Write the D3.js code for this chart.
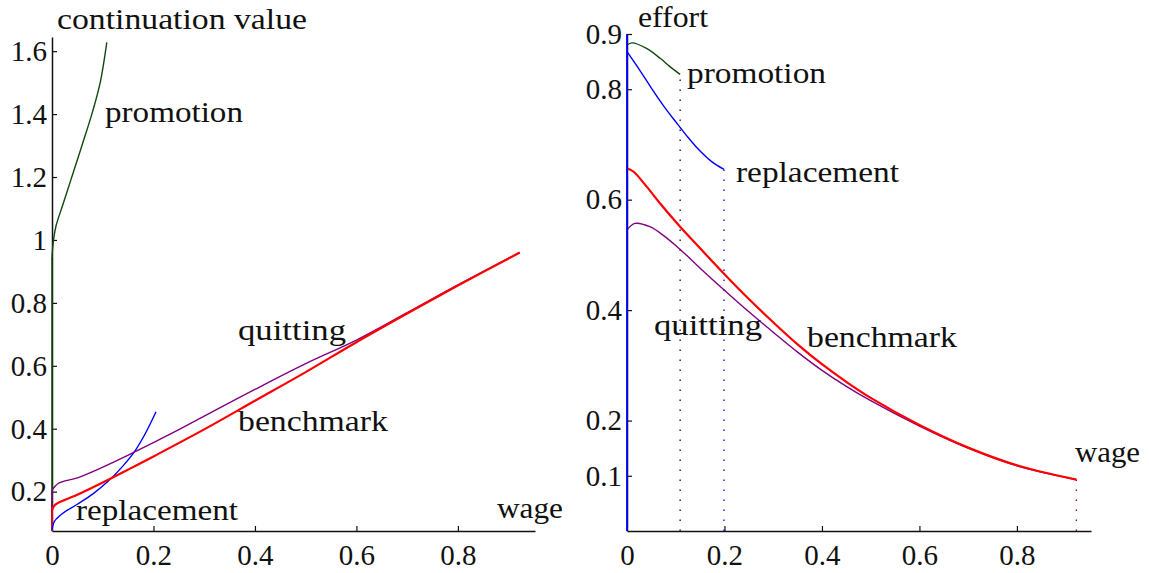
<!DOCTYPE html>
<html>
<head>
<meta charset="utf-8">
<script src="https://cdn.jsdelivr.net/npm/d3@7"></script>
<style>
  body { margin: 0; background: #fff; }
</style>
</head>
<body>
<svg width="1149" height="573"></svg>
<script>
// ---- data: left panel, continuation value vs wage ----
var contPromotion = [[0, 0.947], [0.003, 1.0], [0.008, 1.045], [0.022, 1.115], [0.04, 1.205],
                     [0.06, 1.305], [0.08, 1.408], [0.095, 1.5], [0.108, 1.628]];
var contReplacement = [[0, 0.078], [0.005, 0.106], [0.02, 0.13], [0.05, 0.16], [0.08, 0.192],
                       [0.11, 0.232], [0.14, 0.282], [0.165, 0.333], [0.185, 0.388], [0.205, 0.454]];
var contBenchmark = [[0, 0.142], [0.006, 0.158], [0.05, 0.19], [0.1, 0.229], [0.15, 0.27],
                     [0.2, 0.312], [0.3, 0.398], [0.4, 0.489], [0.5, 0.58], [0.6, 0.675],
                     [0.7, 0.766], [0.8, 0.855], [0.922, 0.96]];
var contQuitting = [[0, 0.205], [0.012, 0.226], [0.05, 0.244], [0.1, 0.278], [0.15, 0.316],
                    [0.2, 0.356], [0.25, 0.397], [0.3, 0.44], [0.4, 0.525], [0.5, 0.607],
                    [0.6, 0.682], [0.7, 0.769], [0.8, 0.857], [0.922, 0.96]];

// ---- data: right panel, effort vs wage ----
var effPromotion = [[0, 0.88], [0.01, 0.884], [0.04, 0.874], [0.068, 0.856], [0.088, 0.841], [0.109, 0.827]];
var effReplacement = [[0, 0.868], [0.025, 0.836], [0.05, 0.802], [0.075, 0.77], [0.1, 0.741],
                      [0.125, 0.713], [0.15, 0.688], [0.175, 0.668], [0.199, 0.655]];
var effBenchmark = [[0, 0.657], [0.013, 0.651], [0.04, 0.624], [0.068, 0.593], [0.109, 0.551],
                    [0.15, 0.512], [0.2, 0.465], [0.25, 0.42], [0.3, 0.378], [0.35, 0.338],
                    [0.4, 0.302], [0.45, 0.27], [0.5, 0.241], [0.6, 0.192], [0.7, 0.151],
                    [0.8, 0.119], [0.922, 0.093]];
var effQuitting = [[0, 0.545], [0.016, 0.557], [0.047, 0.551], [0.075, 0.535], [0.1, 0.517],
                   [0.126, 0.496], [0.15, 0.476], [0.2, 0.436], [0.25, 0.397], [0.3, 0.36],
                   [0.35, 0.324], [0.4, 0.291], [0.45, 0.262], [0.5, 0.236], [0.6, 0.19],
                   [0.7, 0.15], [0.8, 0.118], [0.922, 0.093]];

var wageTicks = [0, 0.2, 0.4, 0.6, 0.8];
var contTicks = [0.2, 0.4, 0.6, 0.8, 1, 1.2, 1.4, 1.6];
var effortTicks = [0.1, 0.2, 0.4, 0.6, 0.8, 0.9];

var colors = {promotion: "#104810", replacement: "#0000ff", benchmark: "#ff0000", quitting: "#800080"};
var serif = "'Liberation Serif', 'DejaVu Serif', 'Times New Roman', serif";

var svg = d3.select("svg");
var fmt = d3.format("~g");

var xL = d3.scaleLinear().domain([0, 0.952]).range([52, 535]);
var yL = d3.scaleLinear().domain([0.075, 1.645]).range([531, 37]);
var xR = d3.scaleLinear().domain([0, 0.952]).range([627, 1091]);
var yR = d3.scaleLinear().domain([0, 0.9]).range([531, 34]);

function axes(x, y, yTicks) {
    var gx = svg.append("g")
        .attr("transform", "translate(0," + y.range()[0] + ")")
        .call(d3.axisBottom(x).tickValues(wageTicks).tickSizeInner(-5).tickSizeOuter(0)
              .tickPadding(13).tickFormat(fmt));
    var gy = svg.append("g")
        .attr("transform", "translate(" + x.range()[0] + ",0)")
        .call(d3.axisLeft(y).tickValues(yTicks).tickSizeInner(-5).tickSizeOuter(0)
              .tickPadding(5).tickFormat(fmt));
    [gx, gy].forEach(function(g) {
        g.attr("font-family", serif).attr("font-size", 29);
        g.select(".domain").attr("stroke", "#111").attr("stroke-width", 1.5);
        g.selectAll(".tick line").attr("stroke", "#111").attr("stroke-width", 1.2);
        g.selectAll(".tick text").attr("fill", "#111").style("font-family", serif);
    });
    gx.selectAll(".tick").filter(function(d) { return d === 0; }).select("line").remove();
}

function curve(x, y, data, color, width) {
    var line = d3.line()
        .x(function(d) { return x(d[0]); })
        .y(function(d) { return y(d[1]); })
        .curve(d3.curveCatmullRom.alpha(0.5));
    svg.append("path")
        .attr("d", line(data))
        .attr("fill", "none")
        .attr("stroke", color)
        .attr("stroke-width", width);
}

function stem(x, y, x0, y0, y1, color, width, dotted) {
    svg.append("line")
        .attr("x1", x(x0)).attr("x2", x(x0))
        .attr("y1", y(y0)).attr("y2", y(y1))
        .attr("stroke", color)
        .attr("stroke-width", width)
        .attr("stroke-dasharray", dotted ? "1.4,8.6" : null);
}

function label(txt, px, py, len) {
    svg.append("text")
        .attr("x", px).attr("y", py)
        .attr("font-size", 29)
        .style("font-family", serif)
        .attr("fill", "#111")
        .attr("textLength", len)
        .attr("lengthAdjust", "spacingAndGlyphs")
        .text(txt);
}

// ---- left panel ----
axes(xL, yL, contTicks);
var yMinL = yL.domain()[0];
stem(xL, yL, 0, yMinL, contPromotion[0][1], colors.promotion, 1.5);
stem(xL, yL, 0, yMinL, contQuitting[0][1], colors.quitting, 1.5);
stem(xL, yL, 0, yMinL, contBenchmark[0][1], colors.benchmark, 1.5);
curve(xL, yL, contPromotion, colors.promotion, 1.4);
curve(xL, yL, contReplacement, colors.replacement, 1.4);
curve(xL, yL, contQuitting, colors.quitting, 1.4);
curve(xL, yL, contBenchmark, colors.benchmark, 2.2);

label("continuation value", 57, 29, 250);
label("promotion", 105, 122, 138);
label("quitting", 238, 340, 108);
label("benchmark", 238, 431, 150);
label("replacement", 76, 520, 162);
label("wage", 497, 518, 66);

// ---- right panel ----
axes(xR, yR, effortTicks);
var pEnd = effPromotion[effPromotion.length - 1],
    rEnd = effReplacement[effReplacement.length - 1],
    qEnd = effQuitting[effQuitting.length - 1];
stem(xR, yR, pEnd[0], 0, pEnd[1], "#111", 1.3, true);
stem(xR, yR, rEnd[0], 0, rEnd[1], colors.replacement, 1.3, true);
stem(xR, yR, qEnd[0], 0, qEnd[1], colors.quitting, 1.3, true);
curve(xR, yR, effPromotion, colors.promotion, 1.4);
curve(xR, yR, effReplacement, colors.replacement, 1.4);
curve(xR, yR, effQuitting, colors.quitting, 1.4);
curve(xR, yR, effBenchmark, colors.benchmark, 2.2);
stem(xR, yR, 0, 0, yR.domain()[1], colors.replacement, 1.8);

label("effort", 638, 27, 70);
label("promotion", 687, 83, 139);
label("replacement", 736, 182, 163);
label("quitting", 654, 335, 108);
label("benchmark", 807, 347, 150);
label("wage", 1075, 462, 65);
</script>
</body>
</html>
